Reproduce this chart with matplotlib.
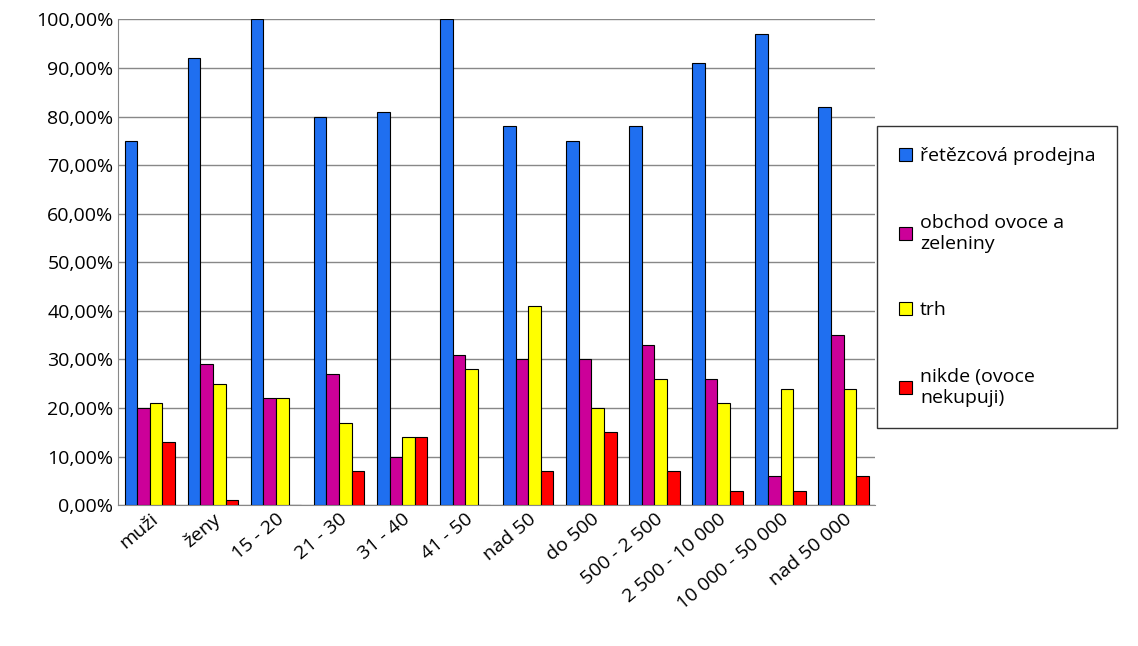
import numpy as np
import matplotlib.pyplot as plt
from matplotlib.ticker import FuncFormatter

categories = ['muži', 'ženy', '15 - 20', '21 - 30', '31 - 40', '41 - 50', 'nad 50',
              'do 500', '500 - 2 500', '2 500 - 10 000', '10 000 - 50 000', 'nad 50 000']
retezec = [75, 92, 100, 80, 81, 100, 78, 75, 78, 91, 97, 82]
obchod = [20, 29, 22, 27, 10, 31, 30, 30, 33, 26, 6, 35]
trh = [21, 25, 22, 17, 14, 28, 41, 20, 26, 21, 24, 24]
nikde = [13, 1, 0, 7, 14, 0, 7, 15, 7, 3, 3, 6]

series = [
    ('řetězcová prodejna', retezec, '#1f6ff0'),
    ('obchod ovoce a\nzeleniny', obchod, '#cc0099'),
    ('trh', trh, '#ffff00'),
    ('nikde (ovoce\nnekupuji)', nikde, '#ff0000'),
]

plt.rcParams['font.family'] = ['Open Sans', 'DejaVu Sans']
fig = plt.figure(figsize=(11.38, 6.46), dpi=100)
ax = fig.add_axes([0.104, 0.218, 0.665, 0.752])

x = np.arange(len(categories))
w = 0.2
for i, (name, vals, col) in enumerate(series):
    ax.bar(x + (i - 1.5) * w, vals, w, color=col, edgecolor='black', linewidth=0.8, label=name, zorder=3)

ax.set_ylim(0, 100)
ax.set_xlim(-0.5, len(categories) - 0.5)
ax.set_yticks(np.arange(0, 101, 10))
ax.yaxis.set_major_formatter(FuncFormatter(lambda v, p: f'{v:.2f}%'.replace('.', ',')))
ax.yaxis.grid(True, color='#888888', linewidth=1, zorder=0)
ax.set_xticks(x)
ax.set_xticklabels(categories, rotation=40, ha='right', rotation_mode='anchor')
ax.tick_params(labelsize=14, length=0)
for s in ['top', 'right']:
    ax.spines[s].set_visible(False)
ax.spines['left'].set_color('#888888')
ax.spines['bottom'].set_color('#888888')

leg = fig.legend(loc='upper left', bbox_to_anchor=(0.771, 0.805), fontsize=14, frameon=True,
                 fancybox=False, edgecolor='black', labelspacing=2.5, handlelength=0.7,
                 handletextpad=0.4, borderpad=1.1, borderaxespad=0)
fig.savefig('out.png', dpi=100)
